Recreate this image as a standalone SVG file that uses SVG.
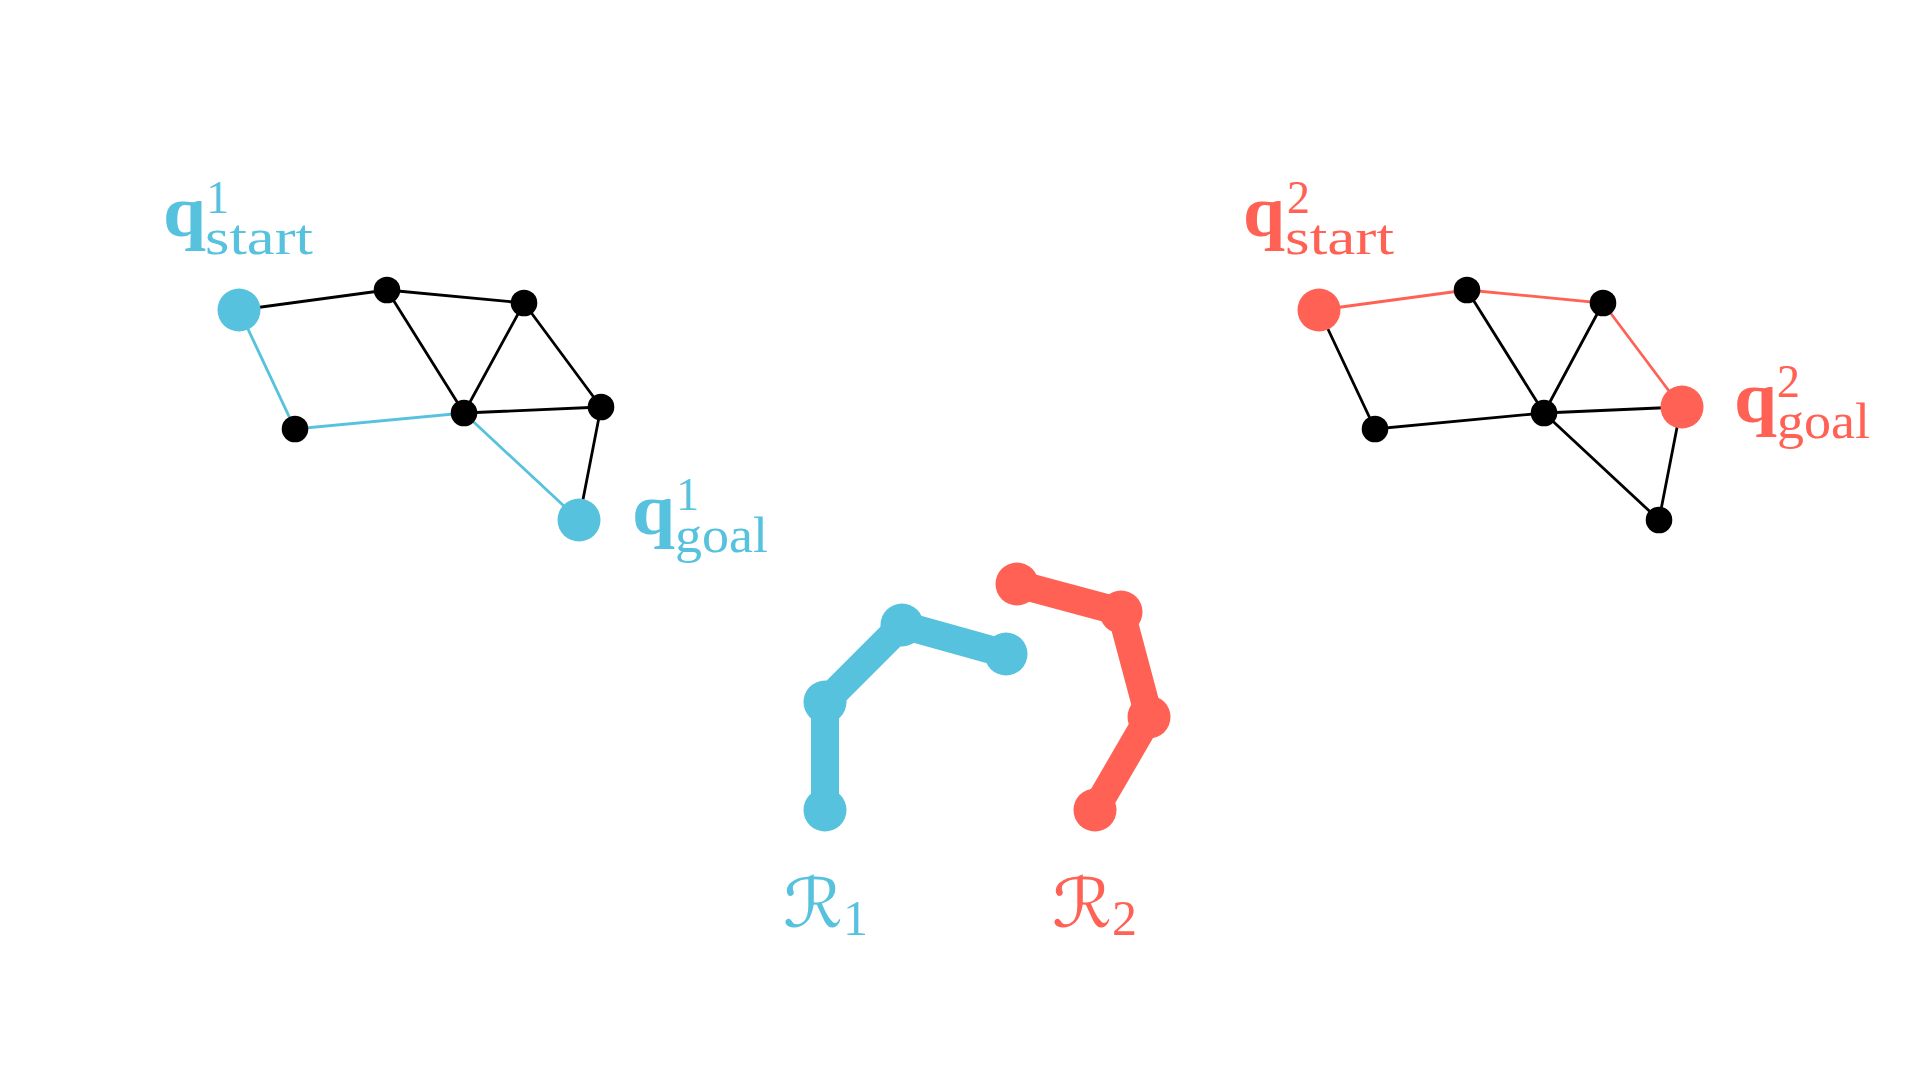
<svg xmlns="http://www.w3.org/2000/svg" width="1920" height="1080" viewBox="0 0 1920 1080">
<style>
.bg{fill:#fff}
.e{stroke:#000;stroke-width:2.8;fill:none}
.eb{stroke:#56C2DE;stroke-width:2.8;fill:none}
.er{stroke:#FF6154;stroke-width:2.8;fill:none}
.n{fill:#000}
.b{fill:#56C2DE}
.r{fill:#FF6154}
.lb{stroke:#56C2DE;stroke-width:28;fill:none}
.lr{stroke:#FF6154;stroke-width:28;fill:none}
text{font-family:"Liberation Serif",serif}
.q{font-size:72px;font-weight:700}
.sub{font-size:50px}
.sup{font-size:46px}
.cal{font-family:"DejaVu Serif","DejaVu Sans",serif;font-size:68px}
.rs{font-size:50px}
</style>
<rect class="bg" width="1920" height="1080"/>
<g id="connectors">
<g id="graph1-edges">
<path class="e" d="M239 310L387 290M387 290L524 303M387 290L464 413M524 303L464 413M524 303L601 407M464 413L601 407M601 407L579 520"/>
<path class="eb" d="M239 310L295 429L464 413L579 520"/>
</g>
<g id="graph2-edges">
<path class="e" d="M1319 310L1375 429L1544 413M1467 290L1544 413M1603 303L1544 413M1544 413L1681 407M1544 413L1659 520M1681 407L1659 520"/>
<path class="er" d="M1319 310L1467 290L1603 303L1681 407"/>
</g>
<path id="robot1-links" class="lb" d="M825 810L825 702L902 625L1006 654"/>
<path id="robot2-links" class="lr" d="M1095 810L1149 717L1121 612L1017 584"/>
</g>
<g id="g1-start"><circle class="b" cx="239" cy="310" r="21.5"/></g>
<g id="g1-a"><circle class="n" cx="387" cy="290" r="13.3"/></g>
<g id="g1-b"><circle class="n" cx="524" cy="303" r="13.3"/></g>
<g id="g1-c"><circle class="n" cx="601" cy="407" r="13.3"/></g>
<g id="g1-d"><circle class="n" cx="464" cy="413" r="13.3"/></g>
<g id="g1-e"><circle class="n" cx="295" cy="429" r="13.3"/></g>
<g id="g1-goal"><circle class="b" cx="579" cy="520" r="21.5"/></g>
<g id="g2-start"><circle class="r" cx="1319" cy="310" r="21.5"/></g>
<g id="g2-a"><circle class="n" cx="1467" cy="290" r="13.3"/></g>
<g id="g2-b"><circle class="n" cx="1603" cy="303" r="13.3"/></g>
<g id="g2-goal"><circle class="r" cx="1682" cy="407" r="21.5"/></g>
<g id="g2-d"><circle class="n" cx="1544" cy="413" r="13.3"/></g>
<g id="g2-e"><circle class="n" cx="1375" cy="429" r="13.3"/></g>
<g id="g2-f"><circle class="n" cx="1659" cy="520" r="13.3"/></g>
<g id="robot1">
<circle class="b" cx="825" cy="810" r="21.5"/><circle class="b" cx="825" cy="702" r="21.5"/><circle class="b" cx="902" cy="625" r="21.5"/><circle class="b" cx="1006" cy="654" r="21.5"/>
</g>
<g id="robot2">
<circle class="r" cx="1095" cy="810" r="21.5"/><circle class="r" cx="1149" cy="717" r="21.5"/><circle class="r" cx="1121" cy="612" r="21.5"/><circle class="r" cx="1017" cy="584" r="21.5"/>
</g>
<g id="label-g1-start" class="b">
<text class="q" x="163" y="236" textLength="43" lengthAdjust="spacingAndGlyphs">q</text>
<text class="sup" x="206" y="213">1</text>
<text class="sub" x="205" y="254" textLength="108" lengthAdjust="spacingAndGlyphs">start</text>
</g>
<g id="label-g1-goal" class="b">
<text class="q" x="632" y="534" textLength="43" lengthAdjust="spacingAndGlyphs">q</text>
<text class="sup" x="676" y="510">1</text>
<text class="sub" x="675" y="552" textLength="93" lengthAdjust="spacingAndGlyphs">goal</text>
</g>
<g id="label-g2-start" class="r">
<text class="q" x="1243" y="236" textLength="42" lengthAdjust="spacingAndGlyphs">q</text>
<text class="sup" x="1287" y="213">2</text>
<text class="sub" x="1285" y="254" textLength="109" lengthAdjust="spacingAndGlyphs">start</text>
</g>
<g id="label-g2-goal" class="r">
<text class="q" x="1734" y="422" textLength="43" lengthAdjust="spacingAndGlyphs">q</text>
<text class="sup" x="1777" y="397">2</text>
<text class="sub" x="1777" y="438" textLength="93" lengthAdjust="spacingAndGlyphs">goal</text>
</g>
<g id="label-r1" class="b">
<text class="cal" x="783" y="927" textLength="60" lengthAdjust="spacingAndGlyphs">ℛ</text>
<text class="rs" x="843" y="935">1</text>
</g>
<g id="label-r2" class="r">
<text class="cal" x="1052" y="927" textLength="60" lengthAdjust="spacingAndGlyphs">ℛ</text>
<text class="rs" x="1112" y="935">2</text>
</g>
</svg>
